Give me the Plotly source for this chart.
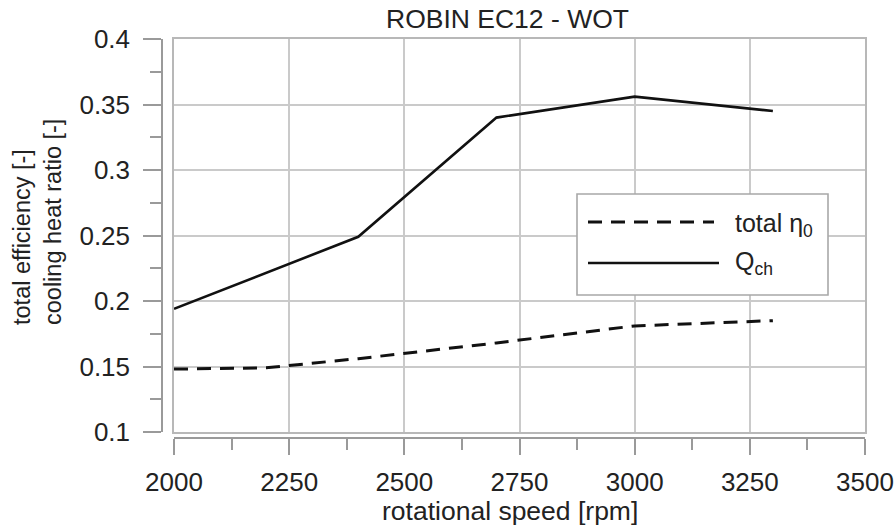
import plotly.graph_objects as go

rpm = [2000, 2400, 2700, 3000, 3300]
q_ch = [0.194, 0.249, 0.340, 0.356, 0.345]
rpm_eta = [2000, 2200, 2400, 2700, 3000, 3300]
eta_total = [0.148, 0.149, 0.156, 0.168, 0.181, 0.185]

x_ticks = [2000, 2250, 2500, 2750, 3000, 3250, 3500]
y_ticks = [0.1, 0.15, 0.2, 0.25, 0.3, 0.35, 0.4]
y_tick_text = ["0.1", "0.15", "0.2", "0.25", "0.3", "0.35", "0.4"]

FONT = "Liberation Sans, Arial, sans-serif"
TXT = "#222222"
GRID = "#cacaca"
AX = "#9a9a9a"

W, H = 896, 528
ML, MR, MT, MB = 162, 31, 39, 90
PW, PH = W - ML - MR, H - MT - MB


def px(xp):
    return (xp - ML) / PW


def py(yp):
    return (H - MB - yp) / PH


xdom = [px(174), 1]
ydom = [py(432), 1]

fig = go.Figure()
fig.add_trace(go.Scatter(x=rpm_eta, y=eta_total, mode="lines",
                         line=dict(color="#111111", width=3, dash="14px,9px"),
                         showlegend=False, hoverinfo="skip"))
fig.add_trace(go.Scatter(x=rpm, y=q_ch, mode="lines",
                         line=dict(color="#111111", width=2.6),
                         showlegend=False, hoverinfo="skip"))
# invisible trace to carry the offset axes
fig.add_trace(go.Scatter(x=rpm, y=q_ch, mode="lines", xaxis="x2", yaxis="y2",
                         line=dict(color="rgba(0,0,0,0)", width=0),
                         showlegend=False, hoverinfo="skip"))

fig.update_layout(
    width=W, height=H,
    margin=dict(l=ML, r=MR, t=MT, b=MB, autoexpand=False),
    paper_bgcolor="white", plot_bgcolor="white",
    font=dict(family=FONT, size=25, color=TXT),
    xaxis=dict(range=[2000, 3500], domain=xdom, anchor="y", automargin=False,
               tickvals=x_ticks, showticklabels=False, ticks="",
               showgrid=True, gridcolor=GRID, gridwidth=1.6,
               showline=True, mirror=True, linecolor="#b8b8b8", linewidth=1.6,
               zeroline=False),
    yaxis=dict(range=[0.1, 0.4], domain=ydom, anchor="x", automargin=False,
               tickvals=y_ticks, showticklabels=False, ticks="",
               showgrid=True, gridcolor=GRID, gridwidth=1.6,
               showline=True, mirror=True, linecolor="#b8b8b8", linewidth=1.6,
               zeroline=False),
    xaxis2=dict(range=[2000, 3500], domain=xdom, anchor="free", position=0,
                overlaying="x", side="bottom", automargin=False,
                tickvals=x_ticks, ticks="outside", ticklen=16, tickwidth=1.5,
                tickcolor=AX, showline=True, linecolor=AX, linewidth=1.5,
                showgrid=False, zeroline=False,
                minor=dict(ticks="outside", ticklen=11, tickwidth=1.5,
                           tickcolor=AX, dtick=125, tick0=2000, showgrid=False),
                tickfont=dict(size=26, color=TXT), ticklabelstandoff=5),
    yaxis2=dict(range=[0.1, 0.4], domain=ydom, anchor="free", position=0,
                overlaying="y", side="left", automargin=False,
                tickvals=y_ticks, ticktext=y_tick_text, ticks="outside",
                ticklen=18, tickwidth=1.5, tickcolor=AX,
                showline=True, linecolor=AX, linewidth=1.5,
                showgrid=False, zeroline=False,
                minor=dict(ticks="outside", ticklen=11, tickwidth=1.5,
                           tickcolor=AX, dtick=0.025, tick0=0.1, showgrid=False),
                tickfont=dict(size=26, color=TXT), ticklabelstandoff=8),
)

# legend box and sample lines
fig.add_shape(type="rect", xref="paper", yref="paper",
              x0=px(577), x1=px(828), y0=py(295), y1=py(194),
              line=dict(color="#a8a8a8", width=1.6), fillcolor="white", layer="above")
fig.add_shape(type="line", xref="paper", yref="paper",
              x0=px(588), x1=px(714), y0=py(222), y1=py(222),
              line=dict(color="#111111", width=3, dash="14px,9px"), layer="above")
fig.add_shape(type="line", xref="paper", yref="paper",
              x0=px(588), x1=px(719), y0=py(263), y1=py(263),
              line=dict(color="#111111", width=2.6), layer="above")

annotations = [
    dict(text="total η<sub>0</sub>", x=px(733), y=py(225), xanchor="left", yanchor="middle",
         font=dict(size=25, color=TXT)),
    dict(text="Q<sub>ch</sub>", x=px(733), y=py(263), xanchor="left", yanchor="middle",
         font=dict(size=25, color=TXT)),
    dict(text="ROBIN EC12 - WOT", x=px(507), y=py(19), xanchor="center", yanchor="middle",
         font=dict(size=26.5, color=TXT)),
    dict(text="rotational speed [rpm]", x=px(510), y=py(511), xanchor="center",
         yanchor="middle", font=dict(size=26.5, color=TXT)),
    dict(text="total efficiency [-]<br>cooling heat ratio [-]", x=px(37), y=py(222),
         xanchor="center", yanchor="middle", textangle=-90, align="left",
         font=dict(size=23.5, color=TXT)),
]
for a in annotations:
    a.update(xref="paper", yref="paper", showarrow=False)
fig.update_layout(annotations=annotations)

fig.write_html(
    "out.html",
    config={"displayModeBar": False},
    post_script="document.body.style.margin='0px';document.body.style.overflow='hidden';",
)
